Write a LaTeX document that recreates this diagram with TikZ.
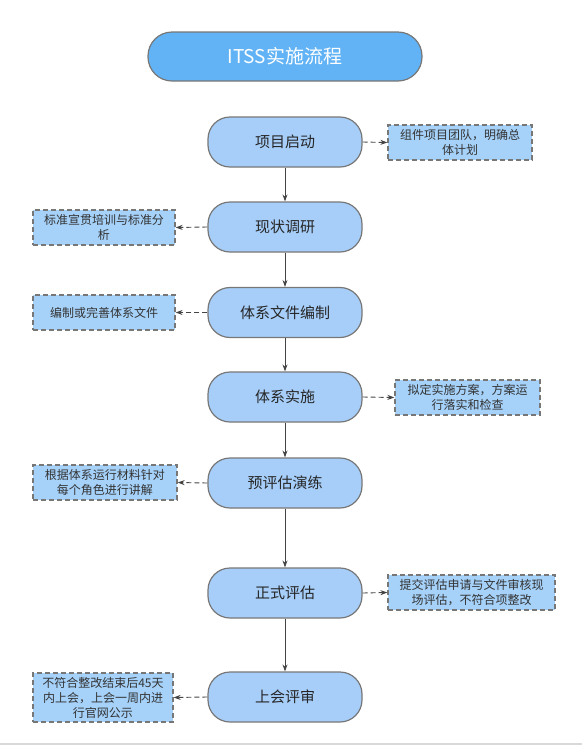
\documentclass[tikz,border=0pt]{standalone}
\usepackage{fontspec}
\setmainfont{Noto Sans CJK SC}
\usetikzlibrary{arrows.meta}
\definecolor{titlefill}{HTML}{62B3F5}
\definecolor{mainfill}{HTML}{A6CEF9}
\definecolor{sidefill}{HTML}{A6D2FA}
\definecolor{edgegray}{HTML}{777777}
\definecolor{arrowgray}{HTML}{444444}
\begin{document}
\begin{tikzpicture}[x=1pt,y=-1pt,
  mainbox/.style={draw=edgegray,line width=1.2pt,fill=mainfill,rounded corners=22pt,
    minimum width=154pt,minimum height=50pt,inner sep=0pt,font=\fontsize{15}{18}\selectfont,text=black!85},
  sidebox/.style={draw=edgegray,line width=1.2pt,dash pattern=on 5pt off 3pt,fill=sidefill,
    inner sep=0pt,align=center,font=\fontsize{12}{15}\selectfont,text=black!80},
  flow/.style={draw=arrowgray,line width=0.9pt,-{Stealth[length=7pt,width=5pt]}},
  dflow/.style={draw=arrowgray,line width=0.9pt,dash pattern=on 5pt off 3pt,-{Stealth[length=7pt,width=5pt]}}]
\useasboundingbox (0,0) rectangle (582,745);
\fill[black!15] (0,742.5) rectangle (582,745);
% title
\node[draw=edgegray,line width=1.2pt,fill=titlefill,rounded corners=24pt,minimum width=274pt,minimum height=49pt,
  inner sep=0pt,text=white,font=\fontsize{19}{22}\selectfont] (title) at (285,56.5) {ITSS实施流程};
% main nodes
\node[mainbox] (m1) at (285,142) {项目启动};
\node[mainbox] (m2) at (285,227) {现状调研};
\node[mainbox] (m3) at (285,312.5) {体系文件编制};
\node[mainbox] (m4) at (285,397) {体系实施};
\node[mainbox] (m5) at (285,483) {预评估演练};
\node[mainbox] (m6) at (285,593) {正式评估};
\node[mainbox] (m7) at (285,697) {上会评审};
% side boxes
\node[sidebox,minimum width=144pt,minimum height=35pt] (s1) at (460,142.5) {组件项目团队，明确总\\体计划};
\node[sidebox,minimum width=142pt,minimum height=35pt] (s2) at (104,227.5) {标准宣贯培训与标准分\\析};
\node[sidebox,minimum width=142pt,minimum height=35pt] (s3) at (104,312.5) {编制或完善体系文件};
\node[sidebox,minimum width=145pt,minimum height=35pt] (s4) at (467.5,397.5) {拟定实施方案，方案运\\行落实和检查};
\node[sidebox,minimum width=144pt,minimum height=35pt] (s5) at (105,482.5) {根据体系运行材料针对\\每个角色进行讲解};
\node[sidebox,minimum width=167pt,minimum height=35pt] (s6) at (471.5,592.5) {提交评估申请与文件审核现\\场评估，不符合项整改};
\node[sidebox,minimum width=140pt,minimum height=49pt] (s7) at (103,697.5) {不符合整改结束后45天\\内上会，上会一周内进\\行官网公示};
% flow
\draw[flow] (m1) -- (m2);
\draw[flow] (m2) -- (m3);
\draw[flow] (m3) -- (m4);
\draw[flow] (m4) -- (m5);
\draw[flow] (m5) -- (m6);
\draw[flow] (m6) -- (m7);
\draw[dflow] (m1.east) -- (s1.west);
\draw[dflow] (m2.west) -- (s2.east);
\draw[dflow] (m3.west) -- (s3.east);
\draw[dflow] (m4.east) -- (s4.west);
\draw[dflow] (m5.west) -- (s5.east);
\draw[dflow] (m6.east) -- (s6.west);
\draw[dflow] (m7.west) -- (s7.east);
\end{tikzpicture}
\end{document}
